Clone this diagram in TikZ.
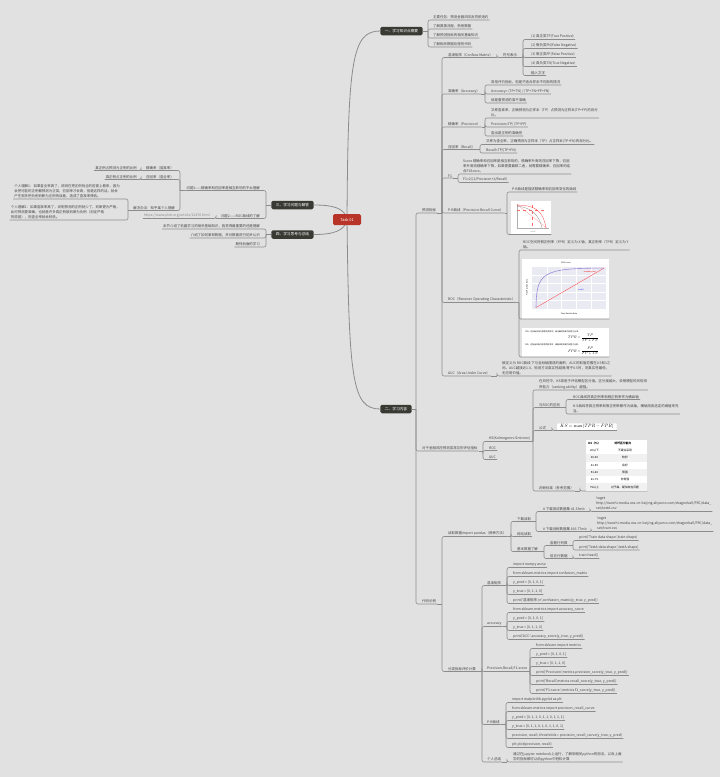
\documentclass[tikz,border=0pt]{standalone}
\usepackage{amsmath}
\usepackage[no-math]{fontspec}
\setmainfont{Noto Sans CJK SC}[Ligatures=TeXOff]
\usetikzlibrary{positioning,calc,backgrounds}
\definecolor{Bg}{HTML}{E1E1E1}
\definecolor{Line}{HTML}{8C8C8C}
\definecolor{Ink}{HTML}{444444}
\definecolor{Dark}{HTML}{3A3A35}
\definecolor{Red}{HTML}{B83328}
\definecolor{LinkC}{HTML}{8A8A8A}
\definecolor{Grid}{HTML}{EAEAF2}
\definecolor{Roc}{HTML}{9C8CD8}
\definecolor{Row}{HTML}{F1F1F1}
% right-hand elbow: parent anchor, x of the vertical, children
\newcommand{\rbr}[3]{\draw[a] (#1) -- (#2,0 |- #1) coordinate (jn);
  \foreach \ch in {#3}{\draw[a,rounded corners=2pt] (jn) |- (\ch.south west) -- (\ch.south east);}}
% left-hand elbow
\newcommand{\lbr}[3]{\draw[a] (#1) -- (#2,0 |- #1) coordinate (jn);
  \foreach \ch in {#3}{\draw[a,rounded corners=2pt] (jn) |- (\ch.south east) -- (\ch.south west);}}

\begin{document}
\begin{tikzpicture}[x=1pt,y=-1pt,
    n/.style={anchor=south west,inner xsep=1pt,inner ysep=0.7pt,font=\fontsize{3.45}{5.3}\selectfont,text=Ink,align=left},
    nl/.style={n,anchor=south east,align=right},
    hb/.style={fill=Dark,text=white,rounded corners=1.5pt,minimum height=8.5pt,inner xsep=4.5pt,inner ysep=0pt,font=\fontsize{3.7}{4}\selectfont},
    im/.style={anchor=south west,fill=white,inner sep=0pt},
    a/.style={draw=Line,line width=0.6pt},
    ma/.style={draw=Line,line width=0.8pt},
    tiny/.style={font=\fontsize{1.9}{2.4}\selectfont,inner sep=0pt}]
  \useasboundingbox (0,0) rectangle (720,777);

  % centre and main branches
  \node[hb,fill=Red,font=\fontsize{3.9}{4}\selectfont,minimum width=28pt,minimum height=11pt] (task) at (347,219.5) {Task 01};
  \node[hb] (yi) at (401.5,31) {一、学习知识点概要};
  \node[hb] (er) at (396,409) {二、学习内容};
  \node[hb] (san) at (292.5,205) {三、学习问题与解答};
  \node[hb] (si) at (292.5,234.5) {四、学习思考与总结};

  % 一
  \node[n] (k1) at (432,20) {主要任务：预测金融风险及贷款违约};
  \node[n] (k2) at (432,29) {了解赛事流程、熟悉数据};
  \node[n] (k3) at (432,38) {了解预测指标的相关基础知识};
  \node[n] (k4) at (432,47) {了解相关数据处理的代码};
  \rbr{yi.east}{428}{k1,k2,k3,k4}

  % 二
  \node[n] (ycz) at (421,213) {预测指标};
  \node[n] (pgzb) at (421,451) {对于金融风控预测类常见的评估指标};
  \node[n] (dmsl) at (421,604) {代码示例};
  \rbr{er.east}{416}{ycz,pgzb,dmsl}

  % 预测指标
  \node[n] (hxjz) at (447,57.5) {混淆矩阵（Confuse Matrix）};
  \node[n] (zql) at (447,94) {准确率（Accuracy）};
  \node[n] (jql) at (447,127) {精确率（Precision）};
  \node[n] (zhl) at (447,149.5) {召回率（Recall）};
  \node[n] (fone) at (447,178) {F1};
  \node[n] (prq) at (447,213) {P-R曲线（Precision-Recall Curve）};
  \node[n] (roc) at (447,302.5) {ROC（Receiver Operating Characteristic）};
  \node[n] (auc) at (447,376) {AUC（Area Under Curve）};
  \rbr{ycz.south east}{442}{hxjz,zql,jql,zhl,fone,prq,roc,auc}

  \node[n] (fhbs) at (502,57.5) {符号表示};
  \rbr{hxjz.south east}{497}{fhbs}
  \node[n] (tp) at (530,39.5) {(1) 真正类TP(True Positive)};
  \node[n] (fn) at (530,48.5) {(2) 假负类FN(False Negative)};
  \node[n] (fp) at (530,57.5) {(3) 假正类FP(False Positive)};
  \node[n] (tn) at (530,66.5) {(4) 真负类TN(True Negative)};
  \node[n] (srwz) at (530,75.5) {输入文字};
  \rbr{fhbs.south east}{523}{tp,fn,fp,tn,srwz}

  \node[n] (acc1) at (490,85) {常用评价指标，但是不适合样本不均衡的情况};
  \node[n] (acc2) at (490,94) {Accuracy= (TP+TN) / (TP+TN+FP+FN)};
  \node[n] (acc3) at (490,103) {就是看预测的准不准确};
  \rbr{zql.south east}{485}{acc1,acc2,acc3}

  \node[n] (pre1) at (490,118) {又称查准率，正确预测为正样本（TP）占预测为正样本(TP+FP)的百分\\比。};
  \node[n] (pre2) at (490,127) {Precision=TP/ (TP+FP)};
  \node[n] (pre3) at (490,136) {查出是正例的准确性};
  \rbr{jql.south east}{485}{pre1,pre2,pre3}

  \node[n] (rec1) at (485,144.5) {又称为查全率，正确预测为正样本（TP）占正样本(TP+FN)的百分比。};
  \node[n] (rec2) at (485,153) {Recall=TP/(TP+FN)};
  \rbr{zhl.south east}{480}{rec1,rec2}

  \node[n] (f1a) at (462,174) {Score 精确率和召回率是相互影响的，精确率升高则召回率下降，召回\\率升高则精确率下降，如果需要兼顾二者，就需要精确率、召回率的结\\合F1Score。};
  \node[n] (f1b) at (462,182.5) {F1=2/(1/Precision+1/Recall)};
  \rbr{fone.south east}{458}{f1a,f1b}

  \node[n] (pr1) at (511,192) {P-R曲线是描述精确率和召回率变化的曲线};
  \node[im,minimum width=40pt,minimum height=33pt] (primg) at (511,234.5) {};
  \rbr{prq.south east}{507}{pr1,primg}
  \begin{scope}[shift={(primg.north west)}]
    \draw[Line!70,line width=0.2pt] (6,3) -- (6,27) -- (38,27);
    \draw[red!45,line width=0.2pt] (6,3.5) -- (36,27);
    \draw[red!60,dashed,line width=0.2pt] (21,4) -- (21,27) (6,9) -- (33,9);
    \draw[Line,line width=0.3pt] (6,5) .. controls (18,6) and (28,12) .. (31,27);
    \draw[red!75,line width=0.3pt] (6,4) .. controls (22,4) and (32,8) .. (35,27);
    \node[tiny,text=Line] (prx) at (22,31) {recall};
  \end{scope}

  \node[n] (roc1) at (522,250) {ROC空间将假正例率（FPR）定义为 X 轴，真正例率（TPR）定义为 Y\\轴。};
  \node[im,minimum width=87pt,minimum height=60pt] (rocimg) at (522,319) {};
  \node[im,minimum width=87pt,minimum height=29pt] (rocfml) at (522,357) {};
  \rbr{roc.south east}{519}{roc1,rocimg,rocfml}
  \begin{scope}[shift={(rocimg.north west)}]
    \fill[Grid] (10,8) rectangle (84,50);
    \foreach \gx in {24.8,39.6,54.4,69.2} \draw[white,line width=0.3pt] (\gx,8) -- (\gx,50);
    \foreach \gy in {16.4,24.8,33.2,41.6} \draw[white,line width=0.3pt] (10,\gy) -- (84,\gy);
    \draw[red!80,line width=0.3pt] (14,49) -- (82,9.5);
    \draw[Roc,line width=0.6pt] (14,49) .. controls (14.5,14) and (20,9.5) .. (82,9.5);
    \node[tiny] (roct) at (44,4) {ROC curve};
    \node[tiny,text=red] (rocr) at (68,13) {random guess};
    \node[tiny,text=blue!70] (rocb) at (59,31) {model};
    \node[tiny] (rocx) at (47,55) {False Positive Rate};
    \node[tiny,rotate=90] (rocy) at (5,29) {True Positive Rate};
  \end{scope}
  \begin{scope}[shift={(rocfml.north west)}]
    \node[tiny,anchor=west] (tprt) at (3,4) {TPR：在所有实际为阳性的样本中，被正确地判断为阳性之比率。};
    \node[inner sep=0pt,anchor=east] (tprf) at (77,10) {\scalebox{0.37}{$TPR=\dfrac{TP}{TP+FN}$}};
    \node[tiny,anchor=west] (fprt) at (3,17) {FPR：在所有实际为阴性的样本中，被错误地判断为阳性之比率。};
    \node[inner sep=0pt,anchor=east] (fprf) at (77,23.5) {\scalebox{0.37}{$FPR=\dfrac{FP}{FP+TN}$}};
  \end{scope}

  \node[n] (auc1) at (501,376) {被定义为 ROC曲线 下与坐标轴围成的面积，AUC的取值范围在0.5和1之\\间。AUC越接近1.0，检测方法真实性越高;等于0.5时，则真实性最低，\\无应用价值。};
  \rbr{auc.south east}{497}{auc1}

  % 评估指标
  \node[n] (ks) at (488,441.5) {KS(Kolmogorov-Smirnov)};
  \node[n] (rocb2) at (488,450.5) {ROC};
  \node[n] (aucb2) at (488,459.5) {AUC};
  \rbr{pgzb.south east}{483}{ks,rocb2,aucb2}

  \node[n] (ks1) at (538,390) {在风控中，KS常用于评估模型区分度。区分度越大，说明模型的风险排\\序能力（ranking ability）越强。};
  \node[n] (ksroc) at (538,407.5) {与ROC的区别};
  \node[n] (ksgs) at (538,430.5) {公式};
  \node[n] (kspd) at (538,491) {判断标准（参考范围）};
  \rbr{ks.south east}{533}{ks1,ksroc,ksgs,kspd}

  \node[n] (ksr1) at (572,399.5) {ROC曲线将真正例率和假正例率作为横纵轴};
  \node[n] (ksr2) at (572,414) {K-S曲线将真正例率和假正例率都作为纵轴，横轴则由选定的阈值来充\\当。};
  \rbr{ksroc.south east}{566}{ksr1,ksr2}

  \node[im,rounded corners=1pt,inner xsep=3pt,minimum height=7pt] (ksf) at (557,430.5) {\scalebox{0.47}{$KS=\max(TPR-FPR)$}};
  \rbr{ksgs.south east}{552}{ksf}

  \node[im,minimum width=61pt,minimum height=51pt] (kstab) at (586,491) {};
  \rbr{kspd.south east}{580}{kstab}
  \begin{scope}[shift={(kstab.north west)}]
    \foreach \r in {2,4,6} \fill[Row] (0,{\r*7.3}) rectangle (61,{(\r+1)*7.3});
    \node[tiny,font=\fontsize{2.8}{3}\selectfont\bfseries] (th1) at (8.5,3.65) {KS（\%）};
    \node[tiny,font=\fontsize{2.8}{3}\selectfont\bfseries] (th2) at (37,3.65) {好坏区分能力};
    \foreach \ka/\kb [count=\i] in {20以下/不建议采用,20-40/较好,41-50/良好,51-60/很强,61-75/非常强,75以上/过于高，疑似存在问题}{
      \node[tiny,font=\fontsize{2.8}{3}\selectfont] at (8.5,{(\i+0.5)*7.3}) {\ka};
      \node[tiny,font=\fontsize{2.8}{3}\selectfont] at (39,{(\i+0.5)*7.3}) {\kb};}
  \end{scope}

  % 代码示例
  \node[n] (dqsj) at (447,536.5) {读取数据import pandas（两种方法）};
  \node[n] (flzb) at (447,671.5) {分类指标评价计算};
  \rbr{dmsl.south east}{442}{dqsj,flzb}

  \node[n] (xzdq) at (516,521.5) {下载读取};
  \node[n] (wzdq) at (516,536.5) {网站读取};
  \node[n] (jbsj) at (516,551.5) {基本数据了解};
  \rbr{dqsj.south east}{511}{xzdq,wzdq,jbsj}

  \node[n] (csj) at (542,511.5) {\# 下载测试数据集 41.33mb};
  \node[n] (xlj) at (542,531.5) {\# 下载训练数据集 166.77mb};
  \rbr{xzdq.south east}{536}{csj,xlj}
  \node[n] (wg1) at (595,511.5) {!wget\\http://tianchi-media.oss-cn-beijing.aliyuncs.com/dragonball/FRC/data\_\\set/testA.csv};
  \rbr{csj.south east}{590}{wg1}
  \node[n] (wg2) at (596,531.5) {!wget\\http://tianchi-media.oss-cn-beijing.aliyuncs.com/dragonball/FRC/data\_\\set/train.csv};
  \rbr{xlj.south east}{591}{wg2}

  \node[n] (ckhl) at (549,545.5) {查看行列数};
  \node[n] (qwh) at (549,558.5) {前五行数据};
  \rbr{jbsj.south east}{544}{ckhl,qwh}
  \node[n] (ptr) at (578,540.5) {print('Train data shape:',train.shape)};
  \node[n] (pte) at (578,550) {print('TestA data shape:',testA.shape)};
  \rbr{ckhl.south east}{573}{ptr,pte}
  \node[n] (thd) at (578,558.5) {train.head()};
  \rbr{qwh.south east}{573}{thd}

  \node[n] (hx) at (486,585.5) {混淆矩阵};
  \node[n] (accu) at (486,626.5) {accuracy};
  \node[n] (prf) at (486,671.5) {Precision,Recall,F1-score};
  \node[n] (prc) at (486,724.5) {P-R曲线};
  \node[n] (grzj) at (486,762) {个人总结};
  \rbr{flzb.south east}{482}{hx,accu,prf,prc,grzj}

  \node[n] (h1) at (512,567.5) {import numpy as np};
  \node[n] (h2) at (512,576.5) {from sklearn.metrics import confusion\_matrix};
  \node[n] (h3) at (512,585.5) {y\_pred = [0, 1, 0, 1]};
  \node[n] (h4) at (512,594.5) {y\_true = [0, 1, 1, 0]};
  \node[n] (h5) at (512,603.5) {print('混淆矩阵:\textbackslash n',confusion\_matrix(y\_true, y\_pred))};
  \rbr{hx.south east}{507}{h1,h2,h3,h4,h5}

  \node[n] (a1) at (512,612.5) {from sklearn.metrics import accuracy\_score};
  \node[n] (a2) at (512,621.5) {y\_pred = [0, 1, 0, 1]};
  \node[n] (a3) at (512,630.5) {y\_true = [0, 1, 1, 0]};
  \node[n] (a4) at (512,639.5) {print('ACC:',accuracy\_score(y\_true, y\_pred))};
  \rbr{accu.south east}{507}{a1,a2,a3,a4}

  \node[n] (p1) at (535,648.5) {from sklearn import metrics};
  \node[n] (p2) at (535,657.5) {y\_pred = [0, 1, 0, 1]};
  \node[n] (p3) at (535,666.5) {y\_true = [0, 1, 1, 0]};
  \node[n] (p4) at (535,675.5) {print('Precision',metrics.precision\_score(y\_true, y\_pred))};
  \node[n] (p5) at (535,684.5) {print('Recall',metrics.recall\_score(y\_true, y\_pred))};
  \node[n] (p6) at (535,693.5) {print('F1-score:',metrics.f1\_score(y\_true, y\_pred))};
  \rbr{prf.south east}{530}{p1,p2,p3,p4,p5,p6}

  \node[n] (c1) at (511,702.5) {import matplotlib.pyplot as plt};
  \node[n] (c2) at (511,711.5) {from sklearn.metrics import precision\_recall\_curve};
  \node[n] (c3) at (511,720.5) {y\_pred = [0, 1, 1, 0, 1, 1, 0, 1, 1, 1]};
  \node[n] (c4) at (511,729.5) {y\_true = [0, 1, 1, 0, 1, 0, 1, 1, 0, 1]};
  \node[n] (c5) at (511,738.5) {precision, recall, thresholds = precision\_recall\_curve(y\_true, y\_pred)};
  \node[n] (c6) at (511,747.5) {plt.plot(precision, recall)};
  \rbr{prc.south east}{506}{c1,c2,c3,c4,c5,c6}

  \node[n] (g1) at (512,762) {通过在jupyter notebook上运行，了解到相关python的用法，以及上面\\学的指标都可以由python中轻松计算};
  \rbr{grzj.south east}{507}{g1}

  % 三
  \node[nl] (wt1) at (261,190.5) {问题1——精确率和召回率是相互影响的不太理解};
  \node[nl] (wt2) at (261,218.5) {问题2——ROC曲线的了解};
  \lbr{san.west}{266}{wt1,wt2}
  \node[nl,text=LinkC] (lnk) at (211,218.5) {https://www.plob.org/article/12476.html};
  \lbr{wt2.south west}{216}{lnk}

  \node[nl] (jqlq) at (175,170.5) {精确率（查准率）};
  \node[nl] (zhlq) at (175,179.5) {召回率（查全率）};
  \node[nl] (jjbf) at (176,210.5) {解决办法：知乎某个人理解};
  \lbr{wt1.south west}{180}{jqlq,zhlq,jjbf}
  \node[nl] (jq1) at (138,170.5) {真正例占预测为正例的比例};
  \lbr{jqlq.south west}{141}{jq1}
  \node[nl] (zh1) at (138,179.5) {真正例占正例的比例};
  \lbr{zhlq.south west}{141}{zh1}

  \node[nl,align=left] (lj1) at (121,199) {个人理解1：如果查全率高了，说明在把正例找全的前提上看来，因为\\会把可能的正例都预测为正类，召回率才会高，但是这样的话，就会\\产生很多把负例判断为正例的误差，造成了查准率降低。};
  \node[nl,align=left] (lj2) at (121,220) {个人理解2：如果查准率高了，说明预测的正例就少了，判断更为严格，\\此时预测更准确，也就是许多真正例被判断为负例（判定严格\\的原因），则查全率就会较低。};
  \lbr{jjbf.south west}{128}{lj1,lj2}

  % 四
  \node[nl] (zj1) at (261,229) {本节介绍了机器学习的相关基础知识，我觉得最重要的还是理解};
  \node[nl] (zj2) at (261,238) {介绍了如何拿到数据，并对数据进行初步认识};
  \node[nl] (zj3) at (261,247) {期待后面的学习};
  \lbr{si.west}{266}{zj1,zj2,zj3}

  \begin{scope}[on background layer]
    \fill[Bg] (0,0) rectangle (720,777);
    \draw[ma] (task.center) .. controls (348,60) and (352,31) .. (yi.west);
    \draw[ma] (task.center) .. controls (349,380) and (352,409) .. (er.west);
    \draw[ma] (san.east) .. controls (333,205) and (345,208) .. (task.center);
    \draw[ma] (si.east) .. controls (333,234.5) and (345,231) .. (task.center);
  \end{scope}
\end{tikzpicture}
\end{document}
